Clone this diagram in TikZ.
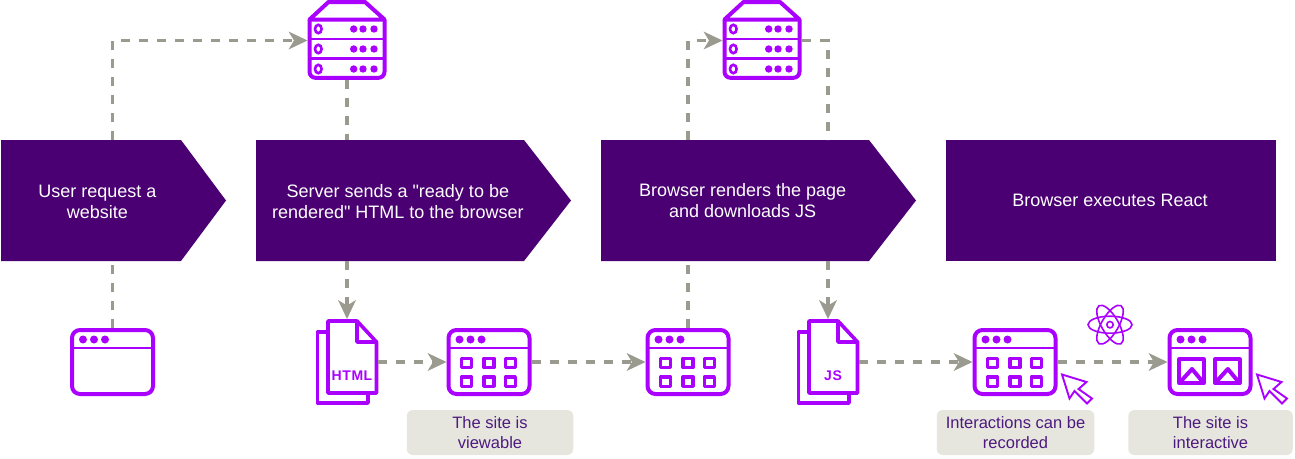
\documentclass[tikz,border=0pt]{standalone}
\usepackage{fontspec}
\setmainfont{Liberation Sans}
\newfontfamily\rawsans{Liberation Sans}
\newfontfamily\rawsansbold[LetterSpace=4]{Liberation Sans Bold}
\usetikzlibrary{arrows.meta}
\definecolor{deep}{HTML}{4A0072}
\definecolor{vio}{HTML}{AA00FF}
\definecolor{conn}{HTML}{9A9A8E}
\definecolor{tag}{HTML}{E6E6DE}
\definecolor{tagtext}{HTML}{4D1A7F}
\tikzset{
  link/.style={draw=conn,line width=3.2pt,dash pattern=on 9pt off 9pt},
  linkarrow/.style={link,-{Stealth[length=19pt,width=18pt,inset=5.5pt,line width=0pt]}},
  slab/.style={fill=deep},
  slabtext/.style={text=white,font=\rawsans\fontsize{18}{21}\selectfont,align=center,inner sep=0pt},
  stepbox/.style={minimum height=121pt,inner sep=0pt,outer sep=0pt},
  iconbox/.style={inner sep=0pt,outer sep=0pt},
  ico/.style={draw=vio,line width=4pt,line join=round},
  icothin/.style={draw=vio,line width=2pt},
  dot/.style={fill=vio},
  note/.style={fill=tag,rounded corners=6pt,text=tagtext,font=\fontsize{16.5}{20}\selectfont,align=center,inner sep=0pt,outer sep=0pt,minimum height=45pt},
  doctext/.style={text=vio,font=\rawsansbold\fontsize{14}{16}\selectfont,inner sep=0pt}
}
\newcommand\windowframe{%
  \draw[ico,rounded corners=8pt] (-40.5,-32) rectangle (40.5,32);
  \draw[ico,line width=2.8pt] (-40.5,-14) -- (40.5,-14);
  \foreach \dx in {-29.5,-18.5,-7.5}{\fill[dot] (\dx,-22.5) circle[radius=4];}
}
\newcommand\windowplain[3]{%
  \node[iconbox,minimum width=85pt,minimum height=68pt] (#1) at (#2,#3) {};
  \begin{scope}[shift={(#2,#3)}]\windowframe\end{scope}}
\newcommand\windowgrid[3]{%
  \node[iconbox,minimum width=85pt,minimum height=68pt] (#1) at (#2,#3) {};
  \begin{scope}[shift={(#2,#3)}]\windowframe
    \foreach \dx in {-22.5,0,21.3}{\foreach \dy in {1,19.7}{
      \draw[ico,line width=3.6pt] (\dx-5,\dy-4.6) rectangle (\dx+5,\dy+4.6);}}
  \end{scope}}
\newcommand\windowpics[3]{%
  \node[iconbox,minimum width=85pt,minimum height=68pt] (#1) at (#2,#3) {};
  \begin{scope}[shift={(#2,#3)}]\windowframe
    \foreach \dx in {-18.5,17.3}{
      \draw[ico] (\dx-12.2,-2.7) rectangle (\dx+12.2,21);
      \draw[ico] (\dx-12.2,21) -- (\dx+.5,7) -- (\dx+12.2,21);}
  \end{scope}}
\newcommand\servericon[3]{%
  \node[iconbox,minimum width=79pt,minimum height=78pt] (#1) at (#2,#3) {};
  \begin{scope}[shift={(#2,#3)}]
    \draw[ico,rounded corners=6pt] (-37.5,-21) -- (-37.5,37.3) -- (37.5,37.3) -- (37.5,-21);
    \draw[ico] (-37.5,-21) -- (-18.5,-38.5) -- (18,-38.5) -- (37.5,-21) -- cycle;
    \draw[ico,line width=2.8pt] (-37.5,-1.5) -- (37.5,-1.5) (-37.5,18) -- (37.5,18);
    \foreach \dy in {-11.5,8.5,28.5}{
      \draw[icothin,line width=2.6pt] (-28.7,\dy) ellipse[x radius=3.3,y radius=4.2];
      \foreach \dx in {6.7,16,27}{\fill[dot] (\dx,\dy) circle[radius=3.7];}}
  \end{scope}}
\newcommand\docicon[4]{%
  \node[iconbox,minimum width=62pt,minimum height=86pt] (#1) at (#2,#3) {};
  \begin{scope}[shift={(#2,#3)}]
    \draw[ico,line width=3.6pt] (-19,-30) -- (-29.5,-30) -- (-29.5,41) -- (21,41) -- (21,31);
    \draw[ico,line width=3.6pt] (-19,-41) -- (10,-41) -- (29.5,-20) -- (29.5,31) -- (-19,31) -- cycle;
    \draw[ico,line width=3.6pt] (10,-41) -- (10,-20) -- (29.5,-20);
    \node[doctext] at (5,14) {#4};
  \end{scope}}
\newcommand\cursoricon[3]{%
  \draw[vio,line width=1.9pt,line join=miter,shift={(#2,#3)}] (0,0) -- (24.5,7.5) -- (16.5,14.5) -- (30,24) -- (25,29) -- (12.5,16.5) -- (7.5,24) -- cycle;
  \coordinate (#1) at (#2,#3);}
\begin{document}
\begin{tikzpicture}[x=1pt,y=-1pt]
\useasboundingbox (0,0) rectangle (1295,458);
% steps
\fill[slab] (1,140) -- (181,140) -- (226,200.5) -- (181,261) -- (1,261) -- cycle;
\fill[slab] (256,140) -- (524,140) -- (571,200.5) -- (524,261) -- (256,261) -- cycle;
\fill[slab] (601,140) -- (869,140) -- (916,200.5) -- (869,261) -- (601,261) -- cycle;
\fill[slab] (946,140) rectangle (1276,261);
\node[stepbox,minimum width=225pt] (stepa) at (113.5,200.5) {};
\node[stepbox,minimum width=315pt] (stepb) at (413.5,200.5) {};
\node[stepbox,minimum width=315pt] (stepc) at (758.5,200.5) {};
\node[stepbox,minimum width=330pt] (stepd) at (1111,200.5) {};
\node[slabtext] (ta) at (97.5,201.5) {User request a\\website};
\node[slabtext] (tb) at (397.8,201.5) {Server sends a "ready to be\\rendered" HTML to the browser};
\node[slabtext] (tc) at (742.7,201) {Browser renders the page\\and downloads JS};
\node[slabtext] (td) at (1110,200.5) {Browser executes React};
% icons
\windowplain{wa}{112.5}{362}
\windowgrid{wb}{489}{362}
\windowgrid{wc}{688}{362}
\windowgrid{wd}{1015}{362}
\windowpics{we}{1210}{362}
\servericon{sa}{347}{40.5}
\servericon{sb}{762}{40.5}
\docicon{da}{347}{362}{HTML}
\docicon{db}{828}{362}{JS}
\cursoricon{ca}{1062}{374.5}
\cursoricon{cb}{1257}{374.5}
% atom
\node[iconbox,minimum size=44pt] (atom) at (1110,324.7) {};
\begin{scope}[shift={(atom.center)}]
  \foreach \r in {0,60,120}{\draw[icothin,line width=1.6pt,rotate=\r] (0,0) ellipse[x radius=22,y radius=8.5];}
  \draw[icothin,line width=1.6pt] (0,0) circle[radius=3.2];
\end{scope}
% connectors
\draw[linkarrow] (stepa.north -| wa.north) |- (sa.west);
\draw[link] (sa.south) -- (sa.south |- stepb.north);
\draw[link] (wa.north) -- (wa.north |- stepa.south);
\draw[linkarrow] (stepb.south -| da.north) -- (da.north);
\draw[linkarrow] (da.east) -- (wb.west);
\draw[linkarrow] (wb.east) -- (wc.west);
\draw[link] (wc.north) -- (wc.north |- stepc.south);
\draw[linkarrow] (stepc.north -| wc.north) |- (sb.west);
\draw[link] (sb.east) -| (db.north |- stepc.north);
\draw[linkarrow] (stepc.south -| db.north) -- (db.north);
\draw[linkarrow] (db.east) -- (wd.west);
\draw[linkarrow] (wd.east) -- (we.west);
% notes
\node[note,minimum width=166.5pt] (na) at (490,432.5) {The site is\\viewable};
\node[note,minimum width=157.5pt] (nb) at (1015.5,432.5) {Interactions can be\\recorded};
\node[note,minimum width=164.5pt] (nc) at (1210.5,432.5) {The site is\\interactive};
\end{tikzpicture}
\end{document}
